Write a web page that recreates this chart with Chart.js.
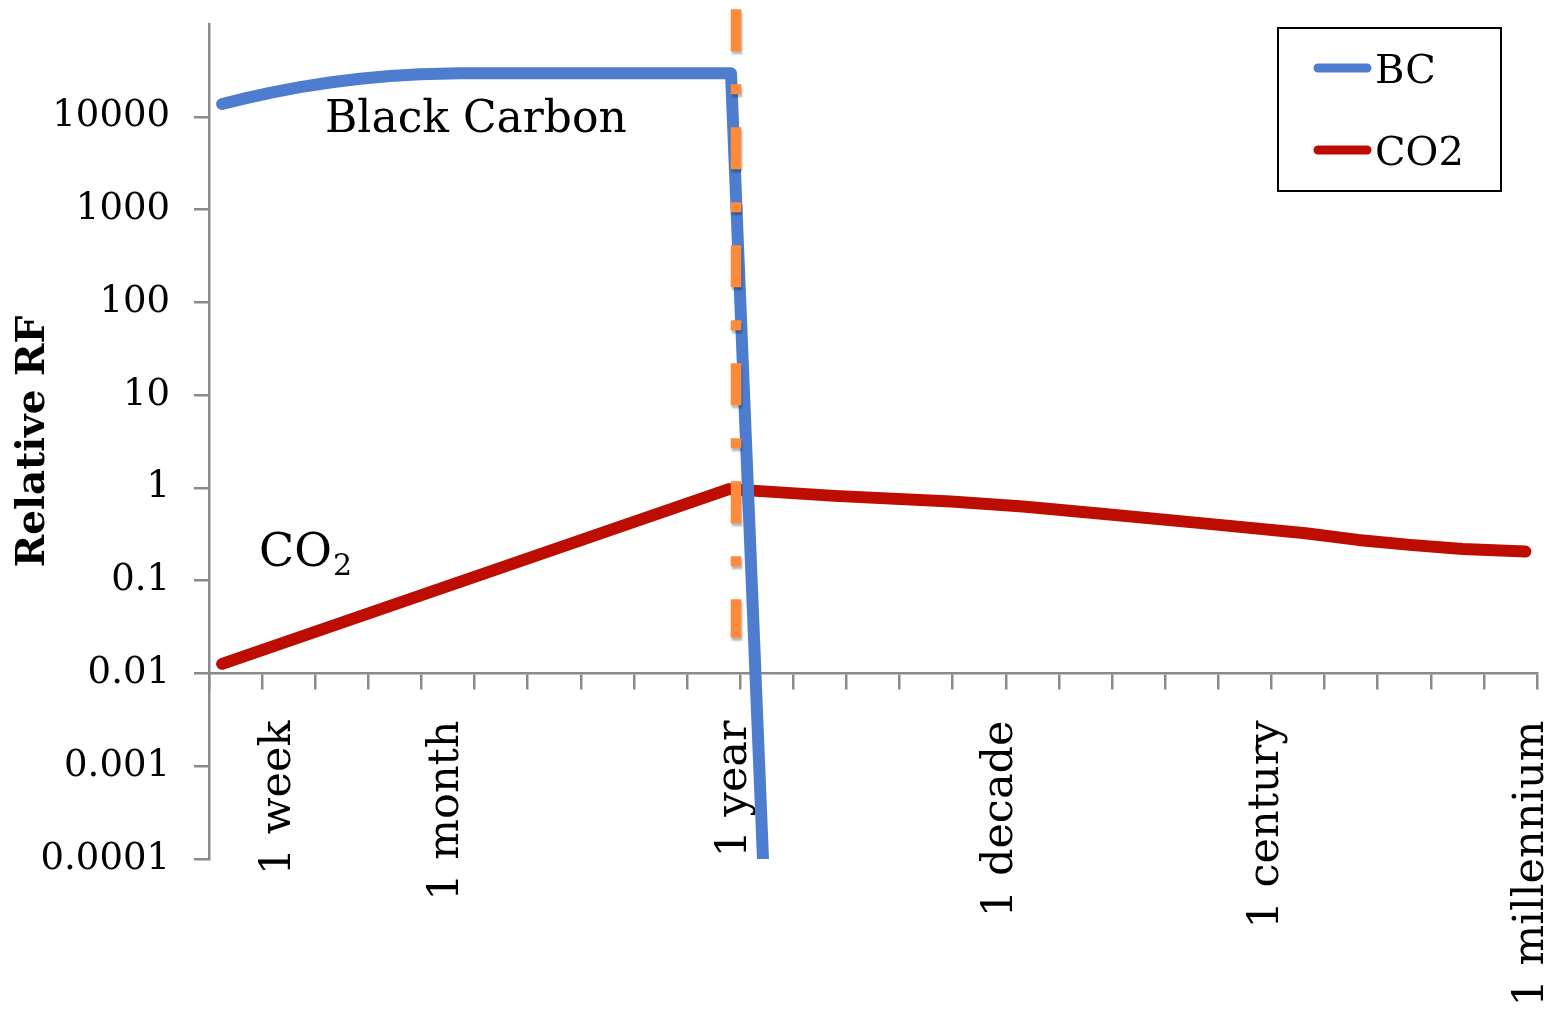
<!DOCTYPE html>
<html>
<head>
<meta charset="utf-8">
<script src="https://cdn.jsdelivr.net/npm/chart.js@4.4.1/dist/chart.umd.min.js"></script>
<style>
  html, body { margin: 0; padding: 0; background: #fff; }
  #wrap { width: 1552px; height: 1013px; }
</style>
</head>
<body>
<div id="wrap"><canvas id="chart"></canvas></div>
<script>
// time axis is in days, on a log scale (3.65 days .. 1000 years)
var timeMin = 3.65;
var timeMax = 365000;
var timeTickStep = 0.2; // tick marks every 0.2 decade
var timeLabelDays = [7, 30, 365, 3650, 36500, 365000];
var timeLabels = ['1 week', '1 month', '1 year', '1 decade', '1 century', '1 millennium'];
var yTickLabels = ['0.0001', '0.001', '0.01', '0.1', '1', '10', '100', '1000', '10000'];

// black carbon forcing (relative)
var bcDays   = [4.09, 4.99, 6.19, 8.03, 10.42, 13.52, 17.53, 22.74, 32.2, 337, 459.6];
var bcValues = [13740, 15810, 18110, 20860, 23440, 25720, 27540, 28800, 29430, 29430, 0.00001];

// CO2 forcing (relative)
var co2Days   = [4.09, 331, 828, 2270, 4238, 8005, 19830, 49090, 77340, 121400, 191500, 330000];
var co2Values = [0.0127, 0.97, 0.82, 0.712, 0.629, 0.534, 0.417, 0.325, 0.275, 0.243, 0.220, 0.206];

// dash-dot marker at one year
var yearLineDays   = [352, 352];
var yearLineValues = [143900, 0.0242];

function pts(xs, ys) {
    return xs.map(function (x, i) { return { x: x, y: ys[i] }; });
}

var tickDays = [];
for (var k = 0; k <= 25; k++) {
    tickDays.push(timeMin * Math.pow(10, k * timeTickStep));
}

Chart.defaults.font.family = '"DejaVu Serif"';
Chart.defaults.color = '#000';

function noPad(s) {
    s.paddingLeft = 0; s.paddingRight = 0; s.paddingTop = 0; s.paddingBottom = 0;
}

const dashShadow = {
    id: 'dashShadow',
    beforeDatasetDraw(chart, args) {
        if (chart.data.datasets[args.index].shadow) {
            const ctx = chart.ctx;
            ctx.save();
            ctx.shadowColor = 'rgba(0,0,0,0.28)';
            ctx.shadowOffsetX = 1;
            ctx.shadowOffsetY = 3;
            ctx.shadowBlur = 2;
        }
    },
    afterDatasetDraw(chart, args) {
        if (chart.data.datasets[args.index].shadow) {
            chart.ctx.restore();
        }
    }
};

const textLabels = {
    id: 'textLabels',
    afterDatasetsDraw(chart) {
        const ctx = chart.ctx;
        ctx.save();
        ctx.fillStyle = '#000';
        ctx.textBaseline = 'alphabetic';
        ctx.font = '44px "DejaVu Serif"';
        ctx.fillText('Black Carbon', 325, 132);
        ctx.font = '46px "DejaVu Serif"';
        ctx.fillText('CO', 259, 566);
        const w = ctx.measureText('CO').width;
        ctx.font = '30px "DejaVu Serif"';
        ctx.fillText('2', 259 + w + 1, 575);
        ctx.restore();
    }
};

const boxLegend = {
    id: 'boxLegend',
    afterDraw(chart) {
        const ctx = chart.ctx;
        const items = chart.data.datasets.filter(d => d.inLegend);
        ctx.save();
        ctx.fillStyle = '#fff';
        ctx.fillRect(1278, 28, 223, 163);
        ctx.strokeStyle = '#000';
        ctx.lineWidth = 2;
        ctx.strokeRect(1278, 28, 223, 163);
        items.forEach((d, i) => {
            const y = 68 + i * 82;
            ctx.strokeStyle = d.borderColor;
            ctx.lineWidth = 9;
            ctx.lineCap = 'round';
            ctx.beginPath();
            ctx.moveTo(1318, y);
            ctx.lineTo(1367, y);
            ctx.stroke();
            ctx.fillStyle = '#000';
            ctx.font = '40px "DejaVu Serif"';
            ctx.textBaseline = 'alphabetic';
            ctx.fillText(d.label, 1375, y + 15);
        });
        ctx.restore();
    }
};

new Chart(document.getElementById('chart'), {
    type: 'line',
    data: {
        datasets: [
            {
                label: '1 year',
                data: pts(yearLineDays, yearLineValues),
                borderColor: '#FF8A3A',
                borderWidth: 10.5,
                borderDash: [42, 33, 10, 33],
                borderCapStyle: 'butt',
                pointRadius: 0,
                clip: false,
                order: 0,
                shadow: true
            },
            {
                label: 'BC',
                data: pts(bcDays, bcValues),
                borderColor: '#4E7DD0',
                borderWidth: 12,
                borderCapStyle: 'round',
                borderJoinStyle: 'round',
                pointRadius: 0,
                clip: 0,
                order: 1,
                inLegend: true
            },
            {
                label: 'CO2',
                data: pts(co2Days, co2Values),
                borderColor: '#BC0D00',
                borderWidth: 12,
                borderCapStyle: 'round',
                borderJoinStyle: 'round',
                pointRadius: 0,
                order: 2,
                inLegend: true
            }
        ]
    },
    options: {
        responsive: true,
        maintainAspectRatio: false,
        animation: false,
        layout: { padding: { left: 0, top: 24, right: 15, bottom: 154 } },
        plugins: {
            legend: { display: false },
            tooltip: { enabled: false }
        },
        scales: {
            x: {
                type: 'logarithmic',
                min: timeMin,
                max: timeMax,
                position: { y: 0.01 },
                afterBuildTicks: s => { s.ticks = tickDays.map(v => ({ value: v })); },
                afterFit: s => { s.height = 0; noPad(s); },
                ticks: { display: false },
                grid: { drawOnChartArea: false, tickLength: 15, color: '#8a8a8a', lineWidth: 2.5 },
                border: { color: '#8a8a8a', width: 2.5 }
            },
            xl: {
                type: 'logarithmic',
                min: timeMin,
                max: timeMax,
                position: { y: 0.01 },
                afterBuildTicks: s => { s.ticks = timeLabelDays.map(v => ({ value: v })); },
                afterFit: s => { s.height = 0; noPad(s); },
                ticks: {
                    autoSkip: false,
                    minRotation: 90,
                    maxRotation: 90,
                    padding: 47,
                    labelOffset: -5,
                    color: '#000',
                    font: { size: 43 },
                    callback: (v, i) => timeLabels[i]
                },
                grid: { display: false, drawTicks: false },
                border: { display: false }
            },
            y: {
                type: 'logarithmic',
                min: 0.0001,
                max: 100000,
                position: 'left',
                afterBuildTicks: s => { s.ticks = yTickLabels.map(t => ({ value: parseFloat(t) })); },
                afterFit: s => { s.width = 209; noPad(s); },
                ticks: {
                    autoSkip: false,
                    padding: 24,
                    color: '#000',
                    font: { size: 37 },
                    callback: (v, i) => yTickLabels[i]
                },
                grid: { drawOnChartArea: false, tickLength: 15, color: '#8a8a8a', lineWidth: 2.5 },
                border: { color: '#8a8a8a', width: 2.5 },
                title: {
                    display: true,
                    text: 'Relative RF',
                    color: '#000',
                    font: { size: 39, weight: 'bold' },
                    padding: { top: 10, bottom: 0 }
                }
            }
        }
    },
    plugins: [dashShadow, textLabels, boxLegend]
});
</script>
</body>
</html>
